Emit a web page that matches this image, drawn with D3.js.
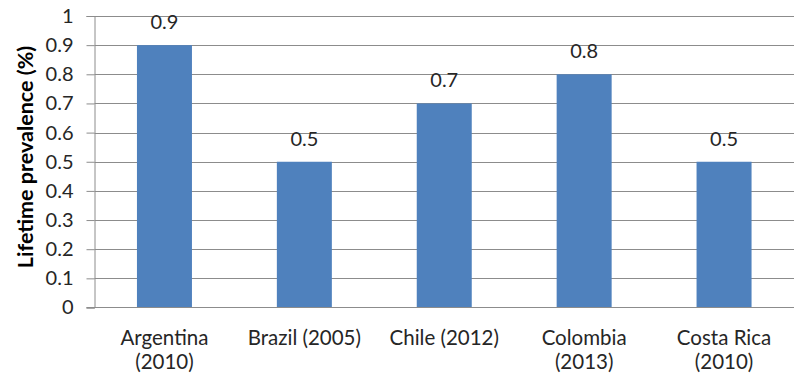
<!DOCTYPE html>
<html>
<head>
    <meta charset="utf-8">
    <title>Lifetime prevalence</title>
    <script src="https://d3js.org/d3.v7.min.js" charset="utf-8"></script>
    <style>
        html, body { margin: 0; padding: 0; background: #fff; }
        text { font-family: Lato, "Open Sans", sans-serif; }
    </style>
</head>
<body>
<div id="chart"></div>
<script>
    // chart data
    const countries = ["Argentina", "Brazil (2005)", "Chile (2012)", "Colombia", "Costa Rica"];
    const years = ["(2010)", "", "", "(2013)", "(2010)"];
    const prevalence = [0.9, 0.5, 0.7, 0.8, 0.5];
    const yTicks = [0, 0.1, 0.2, 0.3, 0.4, 0.5, 0.6, 0.7, 0.8, 0.9, 1];

    const width = 794, height = 378;
    const margin = { top: 16, right: 0, bottom: 70.5, left: 94.5 };
    const textColor = "#262626";

    const svg = d3.select("#chart").append("svg")
        .attr("width", width)
        .attr("height", height);

    const xScale = d3.scaleBand()
        .domain(countries)
        .range([margin.left, width - margin.right])
        .padding(0);

    const yScale = d3.scaleLinear()
        .domain([0, 1])
        .range([height - margin.bottom, margin.top]);

    // gridlines
    svg.append("g")
        .selectAll("line")
        .data(yTicks.slice(1))
        .join("line")
        .attr("x1", margin.left)
        .attr("x2", width - margin.right)
        .attr("y1", d => Math.round(yScale(d)) + 0.5)
        .attr("y2", d => Math.round(yScale(d)) + 0.5)
        .attr("stroke", "#8c8c8c")
        .attr("stroke-width", 1);

    // y axis
    const yAxis = d3.axisLeft(yScale)
        .tickValues(yTicks)
        .tickSize(8)
        .tickPadding(13)
        .tickFormat(d => d3.format("~g")(d));
    const yG = svg.append("g")
        .attr("transform", `translate(${margin.left},0)`)
        .call(yAxis);
    yG.select(".domain").attr("stroke", "#8c8c8c");
    yG.selectAll(".tick line").attr("stroke", "#8c8c8c");
    yG.selectAll(".tick text")
        .style("font-size", "20px")
        .attr("fill", textColor);

    // bars
    const barWidth = 55;
    svg.append("g")
        .selectAll("rect")
        .data(prevalence)
        .join("rect")
        .attr("x", (d, i) => xScale(countries[i]) + xScale.bandwidth() / 2 - barWidth / 2)
        .attr("y", d => yScale(d))
        .attr("width", barWidth)
        .attr("height", d => yScale(0) - yScale(d))
        .attr("fill", "#4f81bd");

    // x axis baseline
    svg.append("line")
        .attr("x1", margin.left - 8)
        .attr("x2", width - margin.right)
        .attr("y1", yScale(0))
        .attr("y2", yScale(0))
        .attr("stroke", "#8c8c8c");

    // value labels
    svg.append("g")
        .selectAll("text")
        .data(prevalence)
        .join("text")
        .attr("x", (d, i) => xScale(countries[i]) + xScale.bandwidth() / 2)
        .attr("y", d => yScale(d) - 16)
        .attr("text-anchor", "middle")
        .style("font-size", "20px")
        .attr("fill", textColor)
        .text(d => d);

    // category labels
    const catG = svg.append("g");
    countries.forEach((c, i) => {
        const cx = xScale(c) + xScale.bandwidth() / 2;
        catG.append("text")
            .attr("x", cx)
            .attr("y", 345)
            .attr("text-anchor", "middle")
            .style("font-size", "20.5px")
            .attr("fill", textColor)
            .text(c);
        if (years[i]) {
            catG.append("text")
                .attr("x", cx)
                .attr("y", 369)
                .attr("text-anchor", "middle")
                .style("font-size", "20.5px")
                .attr("fill", textColor)
                .text(years[i]);
        }
    });

    // y axis title
    svg.append("text")
        .attr("transform", `translate(33, 157) rotate(-90)`)
        .attr("text-anchor", "middle")
        .style("font-size", "21.5px")
        .style("font-weight", "bold")
        .attr("fill", "#000")
        .text("Lifetime prevalence (%)");
</script>
</body>
</html>
